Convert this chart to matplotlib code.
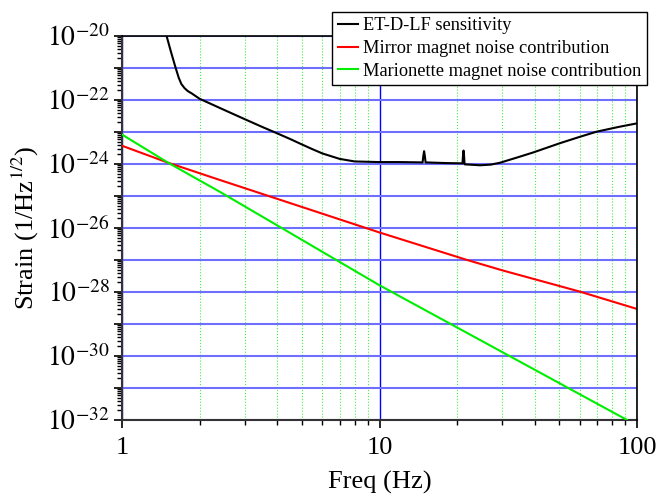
import matplotlib
matplotlib.use('Agg')
import matplotlib.pyplot as plt
import matplotlib.ticker as ticker
import numpy as np

plt.rcParams['font.family'] = ['Liberation Serif', 'DejaVu Serif']
plt.rcParams['mathtext.fontset'] = 'stix'

# ET-D-LF sensitivity (freq [Hz], log10 strain)
et_f = [1.44, 1.49, 1.55, 1.616, 1.66, 1.70, 1.75, 1.80, 1.87, 1.95, 2.0, 2.4, 2.96, 3.5, 4.0,
        4.5, 5.0, 5.5, 6.0, 7.0, 8.0,
        10.0, 12.0, 14.7, 14.8, 14.9, 15.0, 15.1, 18.0, 21.0, 21.1, 21.2, 21.3, 21.4, 24.6, 27.0,
        29.4, 35.1, 39.5, 50.2, 60.0, 69.7, 85.0, 100.0]
et_h = [-19.6, -20.0, -20.5, -21.0, -21.3, -21.5, -21.63, -21.72, -21.80, -21.90, -21.96,
        -22.25, -22.58, -22.84, -23.04, -23.22, -23.39, -23.54, -23.67, -23.84, -23.92,
        -23.94, -23.94, -23.95, -23.75, -23.6, -23.75, -23.95,
        -23.97, -23.98, -23.75, -23.58, -23.75, -24.01, -24.04, -24.02, -23.96, -23.77, -23.64,
        -23.35, -23.15, -22.99, -22.84, -22.73]

# mirror magnet noise
mir_f = [1.0, 1.51, 2.4, 10.0, 21.9, 30.2, 60.1, 100.0]
mir_h = [-23.43, -23.96, -24.5, -26.14, -27.0, -27.33, -27.99, -28.53]

# marionette magnet noise
mar_f = [1.0, 1.51, 2.4, 10.0, 91.5]
mar_h = [-23.08, -23.96, -24.87, -27.79, -32.0]

fig = plt.figure(figsize=[6.59, 4.95], dpi=100)
ax = fig.add_axes([122/659, 1-420/495, (637-122)/659, (420-36)/495])

ax.plot(et_f, 10**np.array(et_h), color='black', lw=1.5, label='ET-D-LF sensitivity', zorder=5)
ax.plot(mir_f, 10**np.array(mir_h), color='#ff0000', lw=1.5, label='Mirror magnet noise contribution', zorder=5)
ax.plot(mar_f, 10**np.array(mar_h), color='#00ee00', lw=1.5, label='Marionette magnet noise contribution', zorder=5)

ax.set_xscale('log')
ax.set_yscale('log')
ax.set_xlim(1, 100)
ax.set_ylim(1e-32, 1e-20)

# y ticks: every decade, label every second one
ax.yaxis.set_major_locator(ticker.FixedLocator([10.0**k for k in range(-32, -19)]))
ax.yaxis.set_major_formatter(ticker.FuncFormatter(
    lambda v, p: r'$10^{%d}$' % round(np.log10(v)) if round(np.log10(v)) % 2 == 0 else ''))
ax.yaxis.set_minor_locator(ticker.LogLocator(base=10, subs=np.arange(2, 10), numticks=40))
ax.yaxis.set_minor_formatter(ticker.NullFormatter())

ax.xaxis.set_major_locator(ticker.FixedLocator([1, 10, 100]))
ax.xaxis.set_major_formatter(ticker.FixedFormatter(['1', '10', '100']))
ax.xaxis.set_minor_locator(ticker.LogLocator(base=10, subs=np.arange(2, 10), numticks=10))
ax.xaxis.set_minor_formatter(ticker.NullFormatter())

ax.tick_params(axis='both', which='major', direction='out', length=6, width=1.2, pad=4)
ax.tick_params(axis='both', which='minor', direction='out', length=3.5, width=1.0)
ax.tick_params(axis='x', which='major', labelsize=19, pad=6)
ax.tick_params(axis='y', which='major', labelsize=20, pad=3)

# grid
ax.yaxis.grid(True, which='major', color='#6f6fff', lw=1.5)
ax.xaxis.grid(True, which='major', color='#0000ff', lw=1.0)
ax.xaxis.grid(True, which='minor', color='#44ee44', lw=0.8, linestyle=':')
ax.set_axisbelow(True)

for s in ['left', 'bottom']:
    ax.spines[s].set_color('#333333')
    ax.spines[s].set_linewidth(1.5)
for s in ['top', 'right']:
    ax.spines[s].set_color('black')
    ax.spines[s].set_linewidth(1.2)
    ax.spines[s].set_zorder(6)

ax.set_xlabel('Freq (Hz)', fontsize=19, labelpad=9)
ax.set_ylabel('Strain (1/Hz$^{1/2}$)', fontsize=19, labelpad=4)

leg = ax.legend(loc='upper right', bbox_to_anchor=(647/659, 1-12/495), bbox_transform=fig.transFigure,
                fontsize=13.2, frameon=True, fancybox=False, framealpha=1, edgecolor='black',
                handlelength=1.1, handletextpad=0.3, labelspacing=0.3, borderpad=0.3, borderaxespad=0)
leg.get_frame().set_linewidth(1.0)
leg.set_zorder(10)

fig.savefig('out.png', dpi=100)
